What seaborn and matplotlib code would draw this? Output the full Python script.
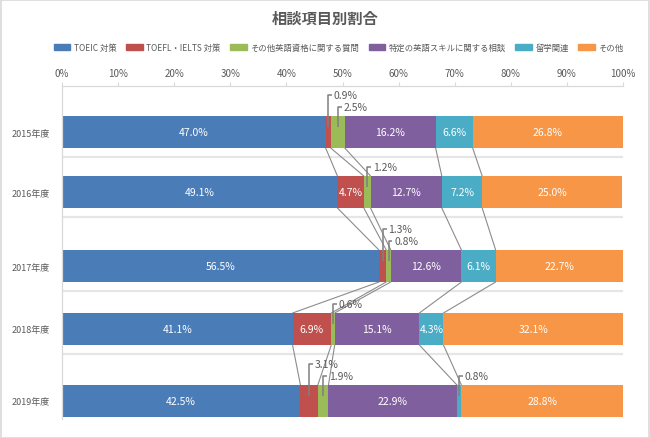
import numpy as np
import pandas as pd
import matplotlib
matplotlib.use('Agg')
import matplotlib.pyplot as plt
import matplotlib.patches as mpatches
import seaborn as sns

# data
years = ['2015年度', '2016年度', '2017年度', '2018年度', '2019年度']
series = ['TOEIC 対策', 'TOEFL・IELTS 対策', 'その他英語資格に関する質問',
          '特定の英語スキルに関する相談', '留学関連', 'その他']
toeic = [47.0, 49.1, 56.5, 41.1, 42.5]
toefl = [0.9, 4.7, 1.3, 6.9, 3.1]
other_exam = [2.5, 1.2, 0.8, 0.6, 1.9]
skill = [16.2, 12.7, 12.6, 15.1, 22.9]
study_abroad = [6.6, 7.2, 6.1, 4.3, 0.8]
others = [26.8, 25.0, 22.7, 32.1, 28.8]

colors = ['#4A7CB8', '#C0504D', '#9BBB59', '#7F5F9E', '#4BACC6', '#F79646']
gray_text = '#595959'
grid_gray = '#d9d9d9'

# row layout (the original rows are not evenly spaced)
row_pos = [0.0, 1.0, 2.233, 3.283, 4.483]
bar_h = 0.533

sns.set_theme(style='white')
plt.rcParams['font.family'] = ['Noto Sans CJK JP', 'DejaVu Sans']

values = np.array([toeic, toefl, other_exam, skill, study_abroad, others])
lefts = np.vstack([np.zeros(len(years)), np.cumsum(values, axis=0)[:-1]])

fig = plt.figure(figsize=(6.5, 4.39), dpi=100)
ax = fig.add_axes([62 / 650, 1 - 420 / 439, 561 / 650, 333 / 439])

# row separators
for p in row_pos[:-1]:
    ax.axhline(p + 0.42, color='#e6e6e6', lw=1.6, zorder=0)

for i, name in enumerate(series):
    sns.barplot(x=values[i], y=row_pos, orient='y', native_scale=True,
                left=lefts[i], color=colors[i], saturation=1, width=bar_h,
                errorbar=None, ax=ax, zorder=2, linewidth=0, edgecolor='none')

# series lines between consecutive bars
bounds = np.cumsum(values, axis=0)[:-1]
for b in bounds:
    for r in range(len(years) - 1):
        ax.plot([b[r], b[r + 1]],
                [row_pos[r] + bar_h / 2, row_pos[r + 1] - bar_h / 2],
                color='#8c8c8c', lw=0.8, zorder=1)

# data labels
for r in range(len(years)):
    for i in range(len(series)):
        v = values[i, r]
        cx = lefts[i, r] + v / 2
        if v >= 4:
            ax.text(cx, row_pos[r], f'{v:.1f}%', color='white', fontsize=7.5,
                    ha='center', va='center', zorder=4)
        else:
            nxt_small = i + 1 < len(series) and values[i + 1, r] < 4
            ly = row_pos[r] - (0.62 if nxt_small else 0.42)
            ax.plot([cx, cx, cx + 0.7], [row_pos[r] - 0.08, ly, ly],
                    color='#7f7f7f', lw=1.1, zorder=5, solid_capstyle='butt')
            ax.text(cx + 1.0, ly, f'{v:.1f}%', color=gray_text, fontsize=7.5,
                    ha='left', va='center', zorder=5)

ax.set_xlim(0, 100)
ax.set_ylim(4.783, -0.767)
ax.set_xticks(np.arange(0, 101, 10))
ax.set_xticklabels([f'{t}%' for t in range(0, 101, 10)])
ax.set_yticks(row_pos)
ax.set_yticklabels(years)
ax.xaxis.tick_top()
ax.tick_params(axis='x', colors=grid_gray, labelcolor=gray_text, labelsize=7,
               length=3, width=0.8, pad=3, direction='out', top=True, bottom=False)
ax.tick_params(axis='y', labelcolor=gray_text, labelsize=6.5, length=0, pad=9)
ax.set_xlabel('')
ax.set_ylabel('')
for side in ['right', 'bottom']:
    ax.spines[side].set_visible(False)
for side in ['top', 'left']:
    ax.spines[side].set_color(grid_gray)
    ax.spines[side].set_linewidth(0.9)

fig.text(0.5, 1 - 19 / 439, '相談項目別割合', ha='center', va='center',
         fontsize=11, fontweight='bold', color=gray_text)

handles = [mpatches.Patch(color=c, label=n) for c, n in zip(colors, series)]
fig.legend(handles=handles, loc='center', bbox_to_anchor=(0.521, 1 - 48.5 / 439),
           ncol=6, frameon=False, fontsize=6, handlelength=2.0, handleheight=0.6,
           handletextpad=0.4, columnspacing=1.15, labelcolor=gray_text)

fig.add_artist(mpatches.Rectangle((0.001, 0.001), 0.997, 0.996, transform=fig.transFigure,
                                  fill=False, edgecolor=grid_gray, lw=1.2))

fig.savefig('out.png', dpi=100)
